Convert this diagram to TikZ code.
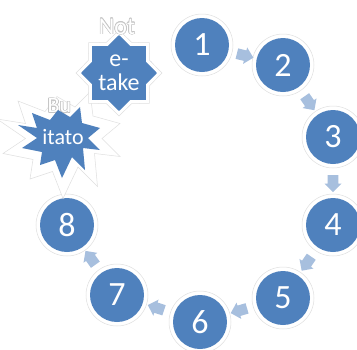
\documentclass[tikz,border=0pt]{standalone}
\usepackage{fontspec}
\setmainfont{Carlito}
\usepackage{contour}
\contourlength{0.6pt}
\usetikzlibrary{shapes.geometric,shapes.arrows}
\definecolor{stepblue}{HTML}{4F81BD}
\definecolor{arrowblue}{HTML}{A7BFDE}

\begin{document}
\begin{tikzpicture}[x=1pt, y=-1pt,
  halo/.style={draw=gray!25, fill=white, line width=0.5pt},
  stepcircle/.style={circle, fill=stepblue, text=white, minimum size=54pt,
    inner sep=0pt, font=\fontsize{34}{34}\selectfont},
  blockarrow/.style={single arrow, fill=arrowblue, minimum height=17pt,
    minimum width=17pt, inner sep=5pt, single arrow head extend=3pt,
    sloped, allow upside down},
  ghost/.style={text=white, font=\fontsize{24}{24}\selectfont}]
  \useasboundingbox (0,0) rectangle (357,349);
  % numbered steps round the ring
  \foreach \n/\x/\y in {1/202/45, 2/283/65, 3/333/137, 4/333/225,
                        5/283/298, 6/200/322, 7/117/295, 8/67/225} {
    \draw[halo] (\x,\y) circle (31);
    \node[stepcircle] (c\n) at (\x,\y) {\n};
  }
  \foreach \a/\b in {1/2, 2/3, 3/4, 4/5, 5/6, 6/7, 7/8}
    \path (c\a) -- node[blockarrow] {} (c\b);
  % the two odd ones
  \coordinate (boom) at (60,137);
  \coordinate (starc) at (119,73);
  \path (c8) -- node[blockarrow, pos=0.375, minimum height=9pt, minimum width=10pt,
    inner sep=2.5pt, single arrow head extend=2pt] {} (boom);
  \path (starc) -- node[blockarrow, pos=0.53, minimum height=4pt, minimum width=4pt,
    inner sep=1pt, single arrow head extend=1pt] {} (c1);
  \def\burst{(-28,-24) -- (-10,-17) -- (-2,-27) -- (10,-20) -- (20,-30) -- (22,-14)
    -- (40,-9) -- (28,1) -- (40,13) -- (23,11) -- (25,33) -- (12,20) -- (2,41)
    -- (-5,23) -- (-20,28) -- (-18,15) -- (-38,11) -- (-23,1) -- (-42,-12)
    -- (-23,-9) -- cycle}
  \draw[halo, shift={(boom)}, scale=1.5] \burst;
  \node[star, star points=8, star point ratio=1.3, minimum size=86pt, halo] at (starc) {};
  \node[ghost] (not) at (117,27) {\contour{gray!45}{Not}};
  \node[ghost, font=\fontsize{22}{22}\selectfont, anchor=west] (but) at (44,106)
    {\contour{gray!45}{Bu}};
  \fill[stepblue, shift={(boom)}] \burst;
  \node[text=white, font=\fontsize{22}{22}\selectfont] (itato) at (63,137) {itato};
  \node[star, star points=8, star point ratio=1.3, minimum size=72pt, inner sep=0pt,
    fill=stepblue, text=white, align=center,
    font=\fontsize{24}{24}\selectfont] (etake) at (starc) {e-\\take};
\end{tikzpicture}
\end{document}
